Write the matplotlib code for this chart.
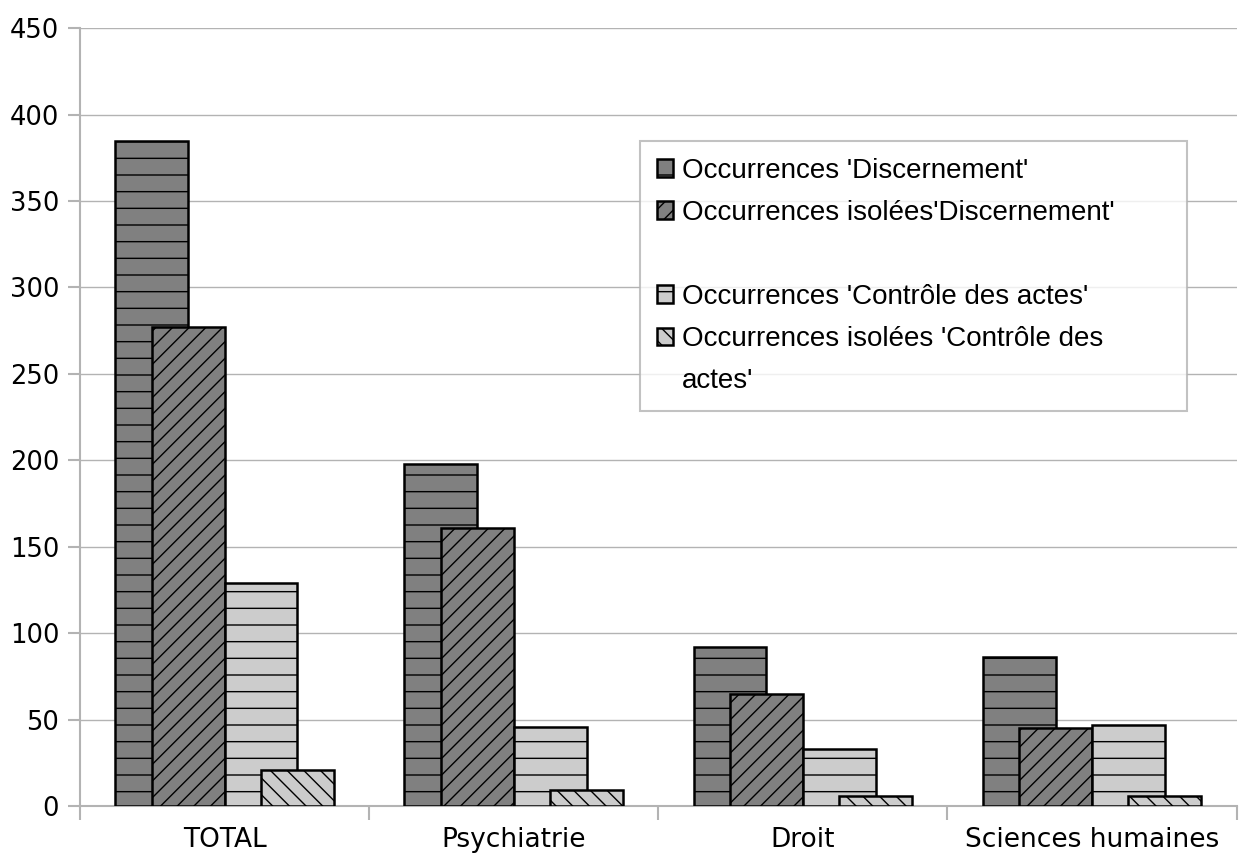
import numpy as np
import matplotlib.pyplot as plt
from matplotlib.patches import Patch

# donnees
categories = ["TOTAL", "Psychiatrie", "Droit", "Sciences humaines"]
occ_discernement = [385, 198, 92, 86]
occ_isolees_discernement = [277, 161, 65, 45]
occ_controle = [129, 46, 33, 47]
occ_isolees_controle = [21, 9, 6, 6]

series_labels = ["Occurrences 'Discernement'",
                 "Occurrences isolées'Discernement'",
                 "Occurrences 'Contrôle des actes'",
                 "Occurrences isolées 'Contrôle des actes'"]
series = [occ_discernement, occ_isolees_discernement, occ_controle, occ_isolees_controle]
couleurs = ["#808080", "#808080", "#cccccc", "#cccccc"]
hachures = ["-", "//", "-", "\\\\"]

plt.rcParams['hatch.linewidth'] = 1.0
plt.rcParams['font.family'] = 'DejaVu Sans'

fig = plt.figure(figsize=(12.39, 8.55), dpi=100)
ax = fig.add_axes([0.0646, 0.0573, 0.9334, 0.9097])

x = np.arange(len(categories))
largeur = 0.252
decalages = [-0.252, -0.126, 0.126, 0.252]

handles = []
for i in range(4):
    b = ax.bar(x + decalages[i], series[i], largeur, color=couleurs[i],
               edgecolor="black", linewidth=1.8, hatch=hachures[i], zorder=3,
               label=series_labels[i])
    handles.append(b)

ax.set_ylim(0, 450)
ax.set_xlim(-0.5, 3.5)
ax.set_yticks(np.arange(0, 451, 50))
ax.yaxis.grid(True, color="#b3b3b3", linewidth=1, zorder=0)

ax.set_xticks(np.arange(-0.5, 3.6, 1))
ax.set_xticklabels([])
ax.set_xticks(x, minor=True)
ax.set_xticklabels(categories, minor=True, fontsize=19)
ax.tick_params(axis="x", which="minor", length=0, pad=15)
ax.tick_params(axis="x", which="major", length=10, width=1.5, color="#b3b3b3")
ax.tick_params(axis="y", length=9, width=1.5, color="#b3b3b3", labelsize=18.5, pad=6)

for s in ["top", "right"]:
    ax.spines[s].set_visible(False)
for s in ["left", "bottom"]:
    ax.spines[s].set_color("#b3b3b3")
    ax.spines[s].set_linewidth(1.5)

# legende : ligne vide entre les deux groupes, derniere etiquette sur deux lignes
vide = Patch(facecolor="none", edgecolor="none")
mots = series_labels[3].rsplit(" ", 1)
leg_handles = [handles[0], handles[1], vide, handles[2], handles[3], vide]
leg_labels = [series_labels[0], series_labels[1], " ", series_labels[2], mots[0], mots[1]]
haut = 1 - 141 / 855
leg = fig.legend(leg_handles, leg_labels, loc="upper left",
                 bbox_to_anchor=(640 / 1239, haut - 0.3, 547 / 1239, 0.3),
                 mode="expand",
                 prop={"family": "Liberation Sans", "size": 20},
                 frameon=True, fancybox=False, edgecolor="#b3b3b3",
                 handlelength=0.6, handleheight=0.6, handletextpad=0.3,
                 labelspacing=0.58, borderpad=0.6, borderaxespad=0)
leg.get_frame().set_linewidth(1.5)

plt.savefig("out.png", dpi=100)
plt.close()
